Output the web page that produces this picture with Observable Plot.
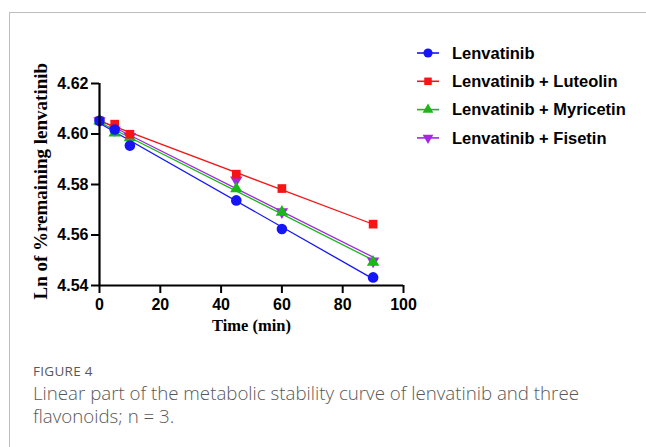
<!DOCTYPE html>
<html>
<head>
<meta charset="utf-8">
<script src="https://cdn.jsdelivr.net/npm/d3@7"></script>
<script src="https://cdn.jsdelivr.net/npm/@observablehq/plot@0.6"></script>
<style>
  html, body { margin: 0; padding: 0; background: #fff; }
  body { width: 646px; height: 447px; position: relative; overflow: hidden; }
  #frame { position: absolute; left: 9px; top: 12px; width: 637px; height: 435px;
           border-left: 1.5px solid #bdbdbd; border-top: 1.5px solid #bdbdbd; }
  #chart { position: absolute; left: 0; top: 0; }
  #legend { position: absolute; left: 410px; top: 38px; }
  #caption { position: absolute; left: 33px; top: 363px; width: 600px;
             font-family: "Open Sans", "Noto Sans", sans-serif; color: #585858; }
  #caption .fig { font-size: 13.5px; line-height: 16px; letter-spacing: 0.3px; }
  #caption .txt { font-size: 18.7px; line-height: 22.5px; font-weight: 300; width: 552px; margin-top: 3px; }
</style>
</head>
<body>
<div id="frame"></div>
<div id="chart"></div>
<div id="legend"></div>
<div id="caption">
  <div class="fig">FIGURE 4</div>
  <div class="txt">Linear part of the metabolic stability curve of lenvatinib and three flavonoids; n = 3.</div>
</div>
<script>
// ---- data ----
const times = [0, 5, 10, 45, 60, 90];
const seriesNames = ["Lenvatinib", "Lenvatinib + Luteolin", "Lenvatinib + Myricetin", "Lenvatinib + Fisetin"];
const lenvatinib = [4.6052, 4.6018, 4.5954, 4.5737, 4.5624, 4.5432];
const luteolin   = [4.6052, 4.6039, 4.5999, 4.5841, 4.5784, 4.5643];
const myricetin  = [4.6052, 4.6004, 4.5985, 4.5783, 4.5690, 4.5492];
const fisetin    = [4.6052, 4.6016, 4.5990, 4.5818, 4.5692, 4.5497];
const xTicks = [0, 20, 40, 60, 80, 100];
const yTicks = [4.54, 4.56, 4.58, 4.60, 4.62];

const colors = {"Lenvatinib": "#1515f5", "Lenvatinib + Luteolin": "#f51515",
                "Lenvatinib + Myricetin": "#19b819", "Lenvatinib + Fisetin": "#a626e8"};
const triangleDown = {
  draw(context, size) {
    const y = -Math.sqrt(size / (Math.sqrt(3) * 3));
    context.moveTo(0, -y * 2);
    context.lineTo(-Math.sqrt(3) * y, y);
    context.lineTo(Math.sqrt(3) * y, y);
    context.closePath();
  }
};
const symbols = {"Lenvatinib": "circle", "Lenvatinib + Luteolin": "square",
                 "Lenvatinib + Myricetin": "triangle", "Lenvatinib + Fisetin": triangleDown};
const radii = {"Lenvatinib": 5.3, "Lenvatinib + Luteolin": 4.9,
               "Lenvatinib + Myricetin": 4.6, "Lenvatinib + Fisetin": 4.6};

const valuesBy = {"Lenvatinib": lenvatinib, "Lenvatinib + Luteolin": luteolin,
                  "Lenvatinib + Myricetin": myricetin, "Lenvatinib + Fisetin": fisetin};
const table = seriesNames.flatMap(s => times.map((t, i) => ({series: s, t, v: valuesBy[s][i]})));

// draw order: purple, green, red, blue (blue on top)
const order = ["Lenvatinib + Fisetin", "Lenvatinib + Myricetin", "Lenvatinib + Luteolin", "Lenvatinib"];

const marks = [];
for (const s of order) {
  const d = table.filter(r => r.series === s);
  marks.push(Plot.linearRegressionY(d, {x: "t", y: "v", stroke: colors[s], strokeWidth: 1.3, ci: 0}));
}
for (const s of order) {
  const d = table.filter(r => r.series === s);
  marks.push(Plot.dot(d, {x: "t", y: "v", symbol: () => symbols[s], r: radii[s], fill: colors[s], stroke: "none"}));
}

const tickFont = {fontFamily: "'Liberation Sans', Arial, sans-serif", fontWeight: "bold", fontSize: 16};

const chart = Plot.plot({
  width: 646,
  height: 345,
  marginLeft: 99,
  marginRight: 243,
  marginTop: 83,
  marginBottom: 60,
  style: {background: "transparent", color: "#000", overflow: "visible"},
  x: {domain: [0, 100]},
  y: {domain: [4.54, 4.62]},
  symbol: {type: "identity"},
  marks: [
    ...marks,
    Plot.axisX({ticks: xTicks, tickSize: 8, tickPadding: 5, strokeWidth: 2, label: null,
                tickFormat: d => String(d), ...tickFont}),
    Plot.axisY({ticks: yTicks, tickSize: 8, tickPadding: 3, strokeWidth: 2, label: null,
                tickFormat: d => d.toFixed(2), ...tickFont}),
    Plot.ruleX([0], {stroke: "#000", strokeWidth: 2.2}),
    Plot.ruleY([4.54], {stroke: "#000", strokeWidth: 2.2}),
    Plot.text(["Time (min)"], {x: 50, frameAnchor: "bottom", dy: 45, text: d => d,
      fontFamily: "'Liberation Serif', 'Times New Roman', serif", fontWeight: "bold", fontSize: 16.5}),
    Plot.text(["Ln of %remaining lenvatinib"], {y: 4.5813, frameAnchor: "left", dx: -59, rotate: -90,
      textAnchor: "middle", text: d => d,
      fontFamily: "'Liberation Serif', 'Times New Roman', serif", fontWeight: "bold", fontSize: 19})
  ]
});
document.getElementById("chart").appendChild(chart);

// ---- legend ----
const lg = d3.select("#legend").append("svg").attr("width", 236).attr("height", 115);
seriesNames.forEach((s, i) => {
  const g = lg.append("g").attr("transform", `translate(0, ${15 + i * 28.3})`);
  g.append("line").attr("x1", 7).attr("x2", 29).attr("y1", 0).attr("y2", 0)
    .attr("stroke", colors[s]).attr("stroke-width", 1.6);
  const sym = typeof symbols[s] === "string"
    ? ({circle: d3.symbolCircle, square: d3.symbolSquare, triangle: d3.symbolTriangle})[symbols[s]]
    : symbols[s];
  g.append("path").attr("transform", "translate(18,0)")
    .attr("d", d3.symbol(sym, Math.PI * radii[s] * radii[s] * 0.75)())
    .attr("fill", colors[s]);
  g.append("text").attr("x", 42).attr("y", 0).attr("dy", "0.35em")
    .attr("font-family", "'Liberation Sans', Arial, sans-serif").attr("font-weight", "bold")
    .attr("font-size", 16.5).attr("fill", "#000").text(s);
});
</script>
</body>
</html>
